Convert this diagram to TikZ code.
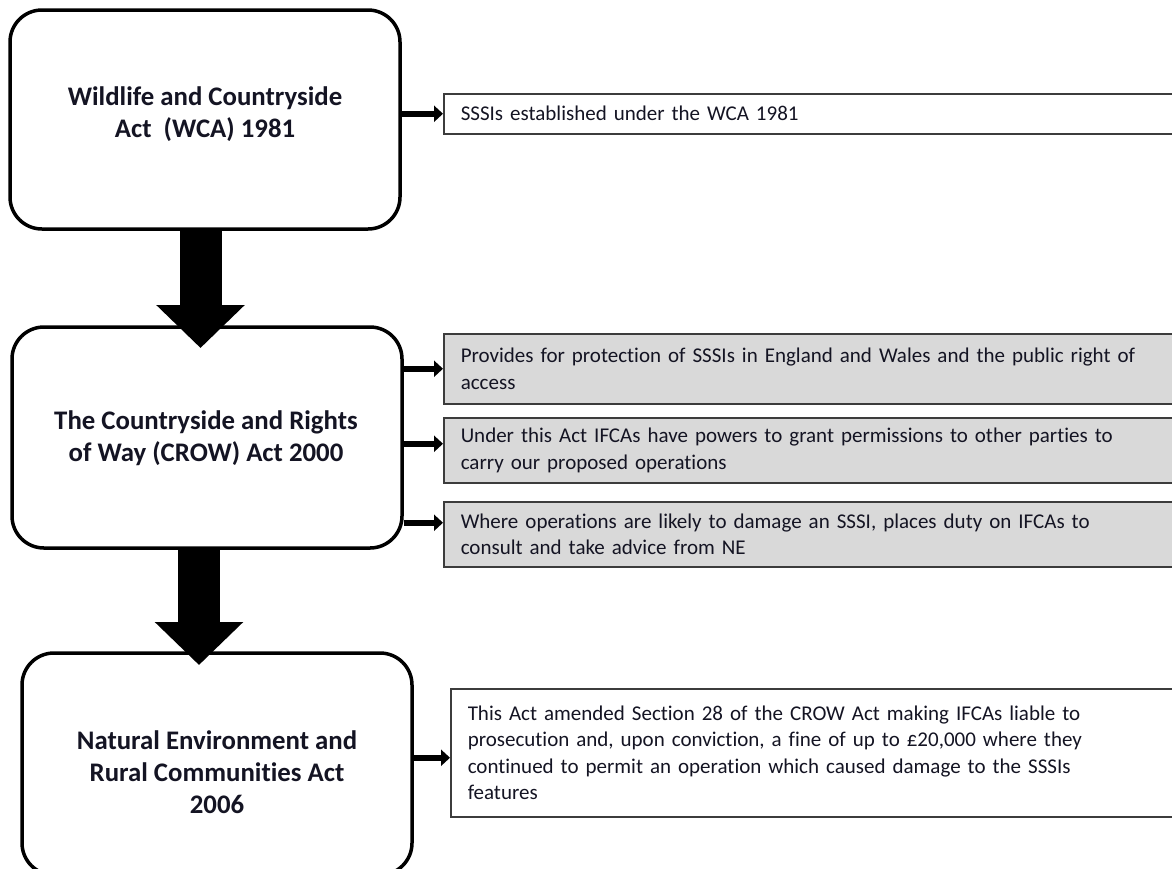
\documentclass[tikz,border=0pt]{standalone}
\usepackage{fontspec}
\setmainfont{Carlito}[Ligatures=NoCommon]
\usetikzlibrary{arrows.meta,calc}
\definecolor{boxgray}{RGB}{217,217,217}
\definecolor{edgegray}{RGB}{60,60,60}
\definecolor{inkcol}{RGB}{20,20,35}
\tikzset{
  actbox/.style={draw=black, line width=3.5pt, rounded corners=32pt, fill=white, inner sep=0pt},
  acttext/.style={align=center, text=inkcol, font=\fontsize{26.8}{32}\selectfont\bfseries, inner sep=0pt},
  sidebox/.style={draw=edgegray, line width=1.5pt, anchor=north west, inner xsep=17pt, inner ysep=0pt,
    text width=740pt, align=left, text=inkcol, font=\fontsize{21}{26.5}\selectfont},
  graybox/.style={sidebox, fill=boxgray},
  whitebox/.style={sidebox, fill=white},
  conn/.style={line width=6pt, -{Triangle[length=9pt,width=16pt]}},
  bigarrow/.style={line width=42pt, -{Triangle[length=43pt,width=86pt]}}
}
\begin{document}
\begin{tikzpicture}[x=1pt,y=-1pt]
\clip (0,0) rectangle (1172,868);
\fill[white] (0,0) rectangle (1172,868);
% main act boxes
\node[actbox, minimum width=390pt, minimum height=219pt] (b1) at (205,119.5) {};
\node[actbox, minimum width=390pt, minimum height=221pt] (b2) at (207,437.5) {};
\node[actbox, minimum width=390pt, minimum height=222pt] (b3) at (217,764) {};
\node[acttext] (t1) at (205,114) {Wildlife and Countryside\\Act~ (WCA) 1981};
\node[acttext] (t2) at (206,438) {The Countryside and Rights\\of Way (CROW) Act 2000};
\node[acttext] (t3) at (217,772) {Natural Environment and\\Rural Communities Act\\2006};
% side boxes
\node[whitebox, minimum height=40pt] (s1) at (443,93) {SSSIs established under the WCA 1981};
\node[graybox, minimum height=70pt] (g1) at (443,333) {Provides for protection of SSSIs in England and Wales and the public right of\\access};
\node[graybox, minimum height=65pt] (g2) at (443,417) {Under this Act IFCAs have powers to grant permissions to other parties to\\carry our proposed operations};
\node[graybox, minimum height=65pt] (g3) at (443,501) {Where operations are likely to damage an SSSI, places duty on IFCAs to\\consult and take advice from NE};
\node[whitebox, minimum height=128pt] (s3) at (450,688) {This Act amended Section 28 of the CROW Act making IFCAs liable to\\prosecution and, upon conviction, a fine of up to £20,000 where they\\continued to permit an operation which caused damage to the SSSIs\\features};
% connector end points
\coordinate (a1) at (s1.west);
\coordinate (a2) at (g1.west);
\coordinate (a3) at ([yshift=6.5pt]g2.west);
\coordinate (a4) at ([yshift=11.5pt]g3.west);
\coordinate (a5) at ([yshift=-5pt]s3.west);
\draw[conn] (b1.east |- a1) -- (a1);
\draw[conn] (b2.east |- a2) -- (a2);
\draw[conn] (b2.east |- a3) -- (a3);
\draw[conn] (b2.east |- a4) -- (a4);
\draw[conn] (b3.east |- a5) -- (a5);
% big down arrows
\coordinate (tip1) at (200.5,348);
\coordinate (tip2) at (199,665);
\draw[bigarrow] (b1.south -| tip1) -- (tip1);
\draw[bigarrow] (b2.south -| tip2) -- (tip2);
\end{tikzpicture}
\end{document}
